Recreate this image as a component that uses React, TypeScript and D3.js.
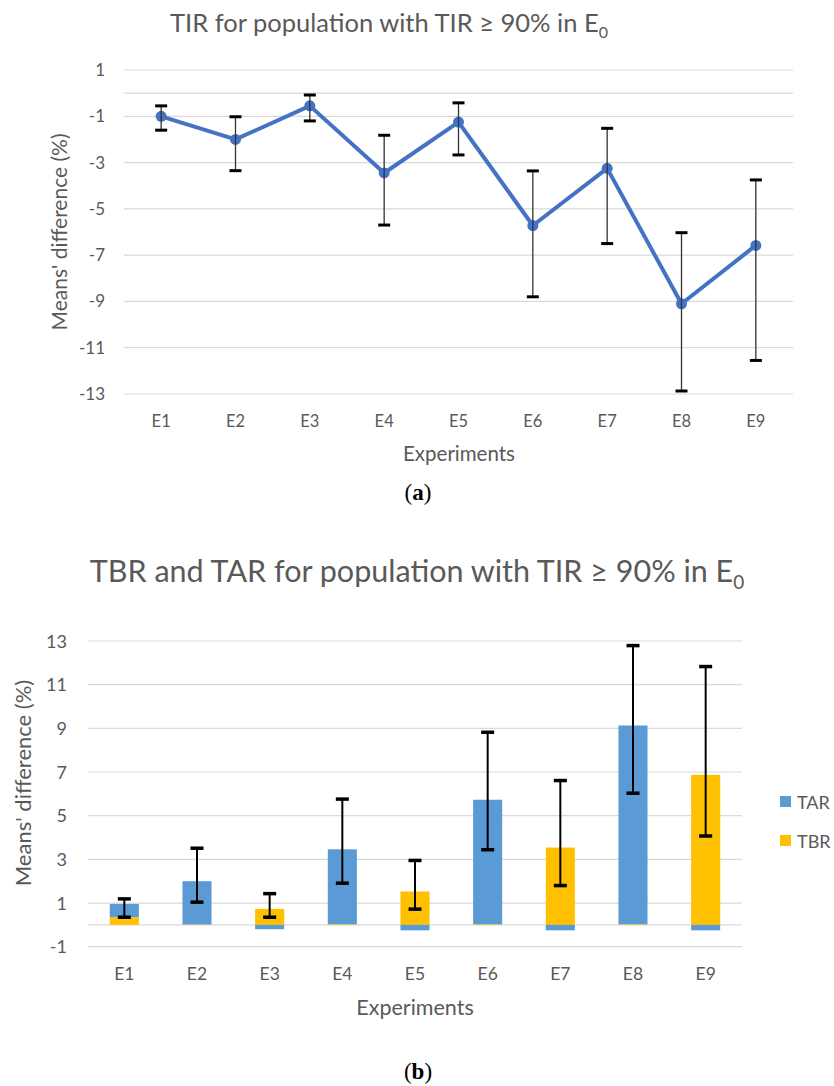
import React, { useEffect, useRef } from "react";
import * as d3 from "d3";

// categories
const experiments = ["E1", "E2", "E3", "E4", "E5", "E6", "E7", "E8", "E9"];

// (a) TIR means' difference with error bar bounds
const tirMean = [-1.0, -2.0, -0.55, -3.45, -1.25, -5.72, -3.25, -9.1, -6.58];
const tirLow = [-1.6, -3.35, -1.2, -5.7, -2.67, -8.8, -6.5, -12.87, -11.55];
const tirHigh = [-0.55, -1.02, -0.08, -1.82, -0.42, -3.36, -1.52, -6.03, -3.75];
const tirTicks = [1, -1, -3, -5, -7, -9, -11, -13];

// (b) stacked TBR / TAR
const tbrVals = [0.35, 0.02, 0.73, 0.03, 1.53, 0.03, 3.54, 0.03, 6.87];
const tarVals = [0.61, 1.98, -0.2, 3.43, -0.25, 5.7, -0.25, 9.1, -0.25];
const stackLow = [0.35, 1.04, 0.35, 1.91, 0.72, 3.44, 1.8, 6.03, 4.07];
const stackHigh = [1.19, 3.51, 1.43, 5.76, 2.95, 8.82, 6.61, 12.79, 11.83];
const barTicks = [13, 11, 9, 7, 5, 3, 1, -1];

const FONT = "Lato, 'Open Sans', sans-serif";
const SERIF = "'Liberation Serif', 'DejaVu Serif', serif";
const GRAY = "#595959";
const GRID = "#d9d9d9";

function App() {
  const ref = useRef<SVGSVGElement | null>(null);

  useEffect(() => {
    const svg = d3.select(ref.current);
    svg.selectAll("*").remove();

    // ---------- chart (a) ----------
    const a = svg.append("g");
    const xA = d3.scaleBand().domain(experiments).range([124, 793]);
    const yA = d3.scaleLinear().domain([-13, 1]).range([394, 70]);
    const cx = (d: string) => (xA(d) as number) + xA.bandwidth() / 2;

    const titleA = a.append("text")
      .attr("x", 389).attr("y", 32)
      .attr("text-anchor", "middle")
      .attr("font-family", FONT).attr("font-size", 25.5).attr("fill", GRAY)
      .text("TIR for population with TIR ≥ 90% in E");
    titleA.append("tspan").attr("font-size", 16).attr("dy", 6).text("0");

    a.selectAll("line.grid")
      .data([...tirTicks, 0])
      .enter().append("line")
      .attr("x1", 124).attr("x2", 793)
      .attr("y1", d => yA(d)).attr("y2", d => yA(d))
      .attr("stroke", GRID).attr("stroke-width", 1.2);

    a.selectAll("text.ytick")
      .data(tirTicks)
      .enter().append("text")
      .attr("x", 105).attr("y", d => yA(d) + 6)
      .attr("text-anchor", "end")
      .attr("font-family", FONT).attr("font-size", 17).attr("fill", GRAY)
      .text(d => d);

    a.selectAll("text.xtick")
      .data(experiments)
      .enter().append("text")
      .attr("x", cx).attr("y", 427)
      .attr("text-anchor", "middle")
      .attr("font-family", FONT).attr("font-size", 16.5).attr("fill", GRAY)
      .text(d => d);

    a.append("text")
      .attr("x", 459).attr("y", 461)
      .attr("text-anchor", "middle")
      .attr("font-family", FONT).attr("font-size", 20.5).attr("fill", GRAY)
      .text("Experiments");

    a.append("text")
      .attr("transform", `translate(67,232) rotate(-90)`)
      .attr("text-anchor", "middle")
      .attr("font-family", FONT).attr("font-size", 21).attr("fill", GRAY)
      .text("Means' difference (%)");

    const line = d3.line<number>()
      .x((_, i) => cx(experiments[i]))
      .y(d => yA(d));
    a.append("path")
      .datum(tirMean)
      .attr("d", line)
      .attr("fill", "none")
      .attr("stroke", "#4472c4")
      .attr("stroke-width", 4)
      .attr("stroke-linejoin", "round");

    a.selectAll("circle")
      .data(tirMean)
      .enter().append("circle")
      .attr("cx", (_, i) => cx(experiments[i]))
      .attr("cy", d => yA(d))
      .attr("r", 5.5)
      .attr("fill", "#4472c4");

    const errA = a.selectAll("g.err")
      .data(experiments)
      .enter().append("g");
    errA.append("line")
      .attr("x1", cx).attr("x2", cx)
      .attr("y1", (_, i) => yA(tirLow[i])).attr("y2", (_, i) => yA(tirHigh[i]))
      .attr("stroke", "#333").attr("stroke-width", 1.3);
    [tirLow, tirHigh].forEach(arr => {
      errA.append("line")
        .attr("x1", d => cx(d) - 6).attr("x2", d => cx(d) + 6)
        .attr("y1", (_, i) => yA(arr[i])).attr("y2", (_, i) => yA(arr[i]))
        .attr("stroke", "#000").attr("stroke-width", 3);
    });

    svg.append("text")
      .attr("x", 418).attr("y", 500)
      .attr("text-anchor", "middle")
      .attr("font-family", SERIF)
      .attr("font-size", 23)
      .html("(<tspan font-weight='bold'>a</tspan>)");

    // ---------- chart (b) ----------
    const b = svg.append("g");
    const yB = d3.scaleLinear().domain([-1, 13]).range([946.7, 641]);
    const xBand = d3.scaleBand().domain(experiments).range([88, 742]);
    const cb = (d: string) => (xBand(d) as number) + xBand.bandwidth() / 2;
    const barW = xBand.bandwidth() * 0.4;

    const titleB = b.append("text")
      .attr("x", 417).attr("y", 582)
      .attr("text-anchor", "middle")
      .attr("font-family", FONT).attr("font-size", 30.5).attr("fill", GRAY)
      .text("TBR and TAR for population with TIR ≥ 90% in E");
    titleB.append("tspan").attr("font-size", 19).attr("dy", 7).text("0");

    b.selectAll("line.grid")
      .data([...barTicks, 0])
      .enter().append("line")
      .attr("x1", 88).attr("x2", 742)
      .attr("y1", d => yB(d)).attr("y2", d => yB(d))
      .attr("stroke", GRID).attr("stroke-width", 1.2);

    b.selectAll("text.ytick")
      .data(barTicks)
      .enter().append("text")
      .attr("x", 67).attr("y", d => yB(d) + 6.5)
      .attr("text-anchor", "end")
      .attr("font-family", FONT).attr("font-size", 18).attr("fill", GRAY)
      .text(d => d);

    b.selectAll("text.xtick")
      .data(experiments)
      .enter().append("text")
      .attr("x", cb).attr("y", 980)
      .attr("text-anchor", "middle")
      .attr("font-family", FONT).attr("font-size", 17.5).attr("fill", GRAY)
      .text(d => d);

    b.append("text")
      .attr("x", 415).attr("y", 1015)
      .attr("text-anchor", "middle")
      .attr("font-family", FONT).attr("font-size", 21.5).attr("fill", GRAY)
      .text("Experiments");

    b.append("text")
      .attr("transform", `translate(31,783) rotate(-90)`)
      .attr("text-anchor", "middle")
      .attr("font-family", FONT).attr("font-size", 22).attr("fill", GRAY)
      .text("Means' difference (%)");

    const rows = experiments.map((e, i) => ({ e, TBR: tbrVals[i], TAR: tarVals[i] }));
    const keys = ["TBR", "TAR"];
    const colors: Record<string, string> = { TAR: "#5b9bd5", TBR: "#ffc000" };
    const series = d3.stack<any>().keys(keys).offset(d3.stackOffsetDiverging)(rows);

    b.selectAll("g.series")
      .data(series)
      .enter().append("g")
      .attr("fill", s => colors[s.key])
      .selectAll("rect")
      .data(s => s)
      .enter().append("rect")
      .attr("x", d => cb(d.data.e) - barW / 2)
      .attr("width", barW)
      .attr("y", d => yB(Math.max(d[0], d[1])))
      .attr("height", d => Math.abs(yB(d[0]) - yB(d[1])));

    const errB = b.selectAll("g.err")
      .data(experiments)
      .enter().append("g");
    errB.append("line")
      .attr("x1", cb).attr("x2", cb)
      .attr("y1", (_, i) => yB(stackLow[i])).attr("y2", (_, i) => yB(stackHigh[i]))
      .attr("stroke", "#000").attr("stroke-width", 2);
    [stackLow, stackHigh].forEach(arr => {
      errB.append("line")
        .attr("x1", d => cb(d) - 6.5).attr("x2", d => cb(d) + 6.5)
        .attr("y1", (_, i) => yB(arr[i])).attr("y2", (_, i) => yB(arr[i]))
        .attr("stroke", "#000").attr("stroke-width", 3.5);
    });

    // legend
    const legend = b.selectAll("g.legend")
      .data(["TAR", "TBR"])
      .enter().append("g")
      .attr("transform", (_, i) => `translate(780,${802 + i * 39})`);
    legend.append("rect")
      .attr("x", 0).attr("y", -6).attr("width", 11).attr("height", 11)
      .attr("fill", d => colors[d]);
    legend.append("text")
      .attr("x", 17).attr("y", 7)
      .attr("font-family", FONT).attr("font-size", 18).attr("fill", GRAY)
      .text(d => d);

    svg.append("text")
      .attr("x", 418).attr("y", 1079)
      .attr("text-anchor", "middle")
      .attr("font-family", SERIF)
      .attr("font-size", 23)
      .html("(<tspan font-weight='bold'>b</tspan>)");
  }, []);

  return (
    <div style={{ position: "absolute", left: 0, top: 0 }}>
      <svg ref={ref} width={834} height={1086} style={{ background: "#fff", display: "block" }} />
    </div>
  );
}

export default App;
